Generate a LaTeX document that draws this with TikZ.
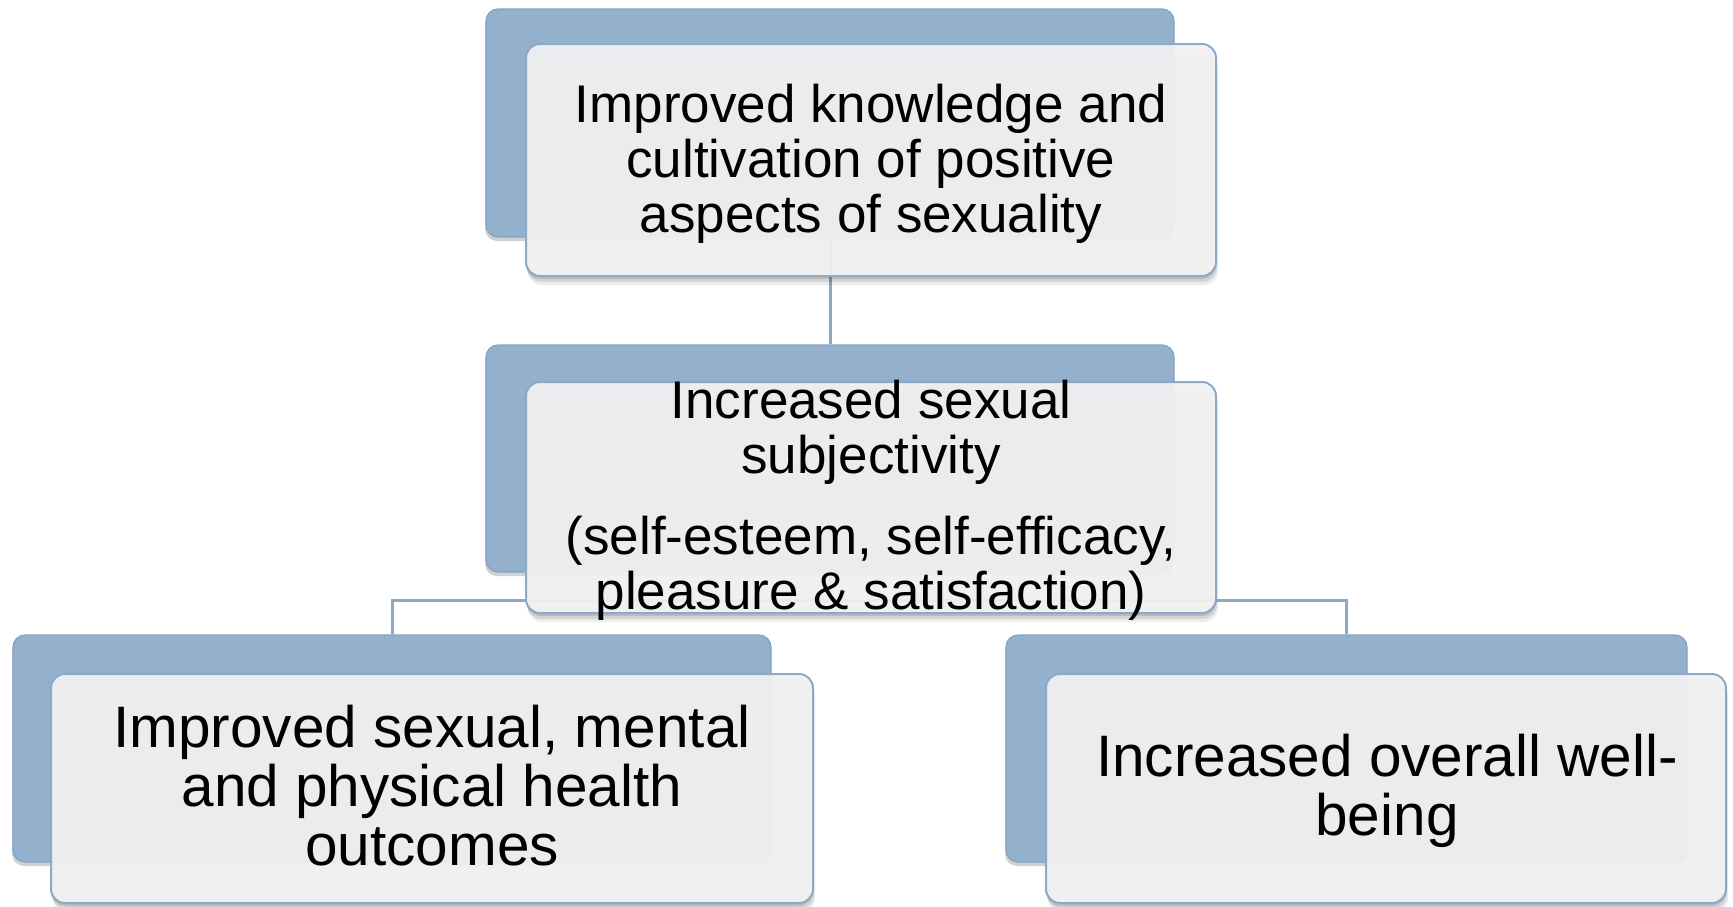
\documentclass[tikz,border=0pt]{standalone}
\usepackage{fontspec}
\setmainfont{Liberation Sans}
\usetikzlibrary{shadows}
\definecolor{backfill}{RGB}{147,177,205}
\definecolor{backedge}{RGB}{132,163,194}
\definecolor{frontfill}{RGB}{243,243,244}
\definecolor{frontedge}{RGB}{140,170,200}
\definecolor{linkcol}{RGB}{140,168,196}
\tikzset{
  softshadow/.style={
    drop shadow={shadow xshift=0pt,shadow yshift=-3pt,opacity=0.12,fill=black},
    drop shadow={shadow xshift=1pt,shadow yshift=-6pt,opacity=0.10,fill=black},
    drop shadow={shadow xshift=2pt,shadow yshift=-9pt,opacity=0.07,fill=black}},
  backbox/.style={rectangle, rounded corners=12pt, fill=backfill, draw=backedge,
    line width=1.2pt, inner sep=0pt,
    drop shadow={shadow xshift=-1pt,shadow yshift=-4pt,opacity=0.18,fill=black}},
  frontbox/.style={rectangle, rounded corners=14pt, fill=frontfill, fill opacity=0.94,
    draw=frontedge, line width=2pt, inner sep=0pt, softshadow},
  smalltext/.style={align=center, inner sep=0pt, text=black,
    font=\fontsize{53}{55}\selectfont},
  bigtext/.style={align=center, inner sep=0pt, text=black,
    font=\fontsize{58.5}{59}\selectfont},
  link/.style={draw=linkcol, line width=3pt}
}
\begin{document}
\begin{tikzpicture}[x=1pt,y=-1pt]
\useasboundingbox (0,0) rectangle (1733,906);

% rear panels
\node[backbox, minimum width=688pt, minimum height=228pt] (topback) at (830,123) {};
\node[backbox, minimum width=688pt, minimum height=227pt] (midback) at (830,458.5) {};
\node[backbox, minimum width=758pt, minimum height=227pt] (leftback) at (392,748.5) {};
\node[backbox, minimum width=681pt, minimum height=227pt] (rightback) at (1346.5,748.5) {};

% tree connectors
\coordinate (fork) at (830,600);
\draw[link] (topback.south) -- (midback.north);
\draw[link] (midback.south) -- (fork);
\draw[link] (fork) -| (leftback.north);
\draw[link] (fork) -| (rightback.north);

% front panels
\node[frontbox, minimum width=690pt, minimum height=232pt] (topfront) at (871,160) {};
\node[frontbox, minimum width=690pt, minimum height=231pt] (midfront) at (871,497.5) {};
\node[frontbox, minimum width=762pt, minimum height=229pt] (leftfront) at (432,788.5) {};
\node[frontbox, minimum width=680pt, minimum height=229pt] (rightfront) at (1386,788.5) {};

% labels
\node[smalltext] (toptext) at (871,163.5)
  {Improved knowledge and\\cultivation of positive\\aspects of sexuality};
\node[smalltext] (midtext) at (871,500.5)
  {Increased sexual\\subjectivity\\[26pt](self-esteem, self-efficacy,\\pleasure \& satisfaction)};
\node[bigtext] (lefttext) at (432,785.5)
  {Improved sexual, mental\\and physical health\\outcomes};
\node[bigtext] (righttext) at (1387,790.5)
  {Increased overall well-\\being};
\end{tikzpicture}
\end{document}
